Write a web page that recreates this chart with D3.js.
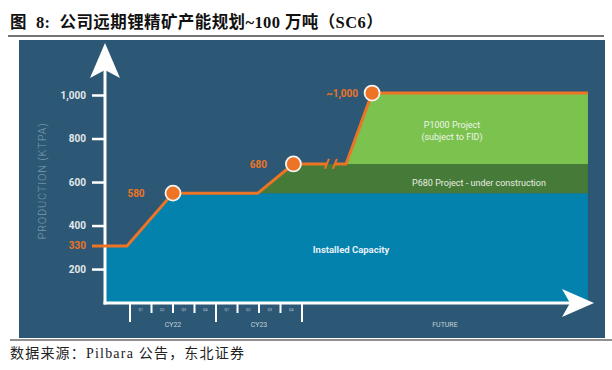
<!DOCTYPE html>
<html>
<head>
<meta charset="utf-8">
<script src="https://cdn.jsdelivr.net/npm/d3@7"></script>
<style>
  body { margin: 0; background: #fff; }
  svg { display: block; }
</style>
</head>
<body>
<svg id="chart" width="612" height="370"></svg>
<script>
// values (schematic chart, KTPA)
const yTicks = [200, 400, 600, 800, 1000];
const quarterTicks = [0, 1, 2, 3, 4, 5, 6, 7, 8];
const quarterLabels = ["Q1", "Q2", "Q3", "Q4", "Q1", "Q2", "Q3", "Q4"];
const yearLabels = ["CY22", "CY23"];
// x position in quarters from start of CY22, level in KTPA
const installedPts = [[-1.16, 306], [-0.14, 306], [2, 549], [21.3, 549]];
const p680Pts = [[5.95, 549], [7.6, 683], [21.3, 683]];
const p1000Pts = [[10.05, 683], [11.26, 1009], [21.3, 1009]];
const milestones = [
  { q: 2, v: 549, label: "580" },
  { q: 7.6, v: 683, label: "680" },
  { q: 11.26, v: 1009, label: "~1,000" }
];
const startLevel = { v: 306, label: "330" };
const breakQ = [9.16, 9.53];

const panelColor = "#2c5876";
const blueColor = "#0482ae";
const darkGreen = "#467a38";
const lightGreen = "#7bc24f";
const orange = "#ec7424";

const svg = d3.select("#chart");

// title + rules
svg.append("text")
  .attr("x", 10).attr("y", 28)
  .attr("font-family", "'Liberation Serif', 'Noto Sans CJK SC', serif")
  .attr("font-size", 16.5).attr("font-weight", "bold").attr("fill", "#111")
  .attr("letter-spacing", 0.4)
  .style("white-space", "pre")
  .text("图  8:  公司远期锂精矿产能规划~100 万吨（SC6）");

svg.append("line")
  .attr("x1", 8).attr("x2", 604).attr("y1", 36).attr("y2", 36)
  .attr("stroke", "#444").attr("stroke-width", 1.5);

svg.append("rect")
  .attr("x", 19).attr("y", 40).attr("width", 586).attr("height", 298)
  .attr("fill", panelColor);

svg.append("line")
  .attr("x1", 10).attr("x2", 612).attr("y1", 340).attr("y2", 340)
  .attr("stroke", "#222").attr("stroke-width", 1.2);

svg.append("text")
  .attr("x", 10).attr("y", 358)
  .attr("font-family", "'Liberation Serif', 'Noto Sans CJK SC', serif")
  .attr("font-size", 14).attr("letter-spacing", 1.2).attr("fill", "#222")
  .text("数据来源：Pilbara 公告，东北证券");

// scales
const xScale = d3.scaleLinear().domain([0, 8]).range([130, 302]);
const yScale = d3.scaleLinear().domain([44, 1000]).range([303, 95]);
const base = yScale.domain()[0];

const g = svg.append("g");

const area = d3.area()
  .x(d => xScale(d[0]))
  .y0(yScale(base))
  .y1(d => yScale(d[1]));

const areaBand = (lower) => d3.area()
  .x(d => xScale(d[0]))
  .y0(yScale(lower))
  .y1(d => yScale(d[1]));

// filled capacity bands
g.append("path")
  .datum([[installedPts[0][0], base], ...installedPts])
  .attr("d", area)
  .attr("fill", blueColor);

g.append("path")
  .datum(p680Pts)
  .attr("d", areaBand(installedPts[3][1]))
  .attr("fill", darkGreen);

g.append("path")
  .datum(p1000Pts)
  .attr("d", areaBand(p680Pts[2][1]))
  .attr("fill", lightGreen);

// band labels
const bandText = g.append("g")
  .attr("font-family", "Roboto, 'DejaVu Sans', sans-serif")
  .attr("text-anchor", "middle");

bandText.append("text")
  .attr("x", 452).attr("y", 128)
  .attr("font-size", 9).attr("fill", "#eef5e8")
  .text("P1000 Project");
bandText.append("text")
  .attr("x", 452).attr("y", 140)
  .attr("font-size", 9).attr("fill", "#eef5e8")
  .text("(subject to FID)");
bandText.append("text")
  .attr("x", 479).attr("y", 186)
  .attr("font-size", 9).attr("fill", "#e6eee2")
  .text("P680 Project - under construction");
bandText.append("text")
  .attr("x", 351).attr("y", 253)
  .attr("font-size", 9.5).attr("font-weight", "bold").attr("fill", "#e4f0f6")
  .text("Installed Capacity");

// y axis ticks and labels
const yAxis = d3.axisLeft(yScale)
  .tickValues(yTicks)
  .tickSize(13)
  .tickPadding(6)
  .tickFormat(d3.format(","));

const yAxisG = g.append("g")
  .attr("transform", "translate(105,0)")
  .call(yAxis);
yAxisG.select(".domain").remove();
yAxisG.selectAll(".tick line")
  .attr("stroke", "#fff").attr("stroke-width", 2.5);
yAxisG.selectAll(".tick text")
  .attr("fill", "#e3e8ec")
  .attr("font-family", "Roboto, sans-serif")
  .attr("font-size", 10).attr("font-weight", "bold");

g.append("text")
  .attr("x", 86).attr("y", yScale(startLevel.v)).attr("dy", "0.35em")
  .attr("text-anchor", "end")
  .attr("font-family", "Roboto, sans-serif")
  .attr("font-size", 10).attr("font-weight", "bold")
  .attr("fill", orange)
  .text(startLevel.label);

g.append("text")
  .attr("transform", "translate(46,181) rotate(-90)")
  .attr("text-anchor", "middle")
  .attr("font-family", "Roboto, sans-serif")
  .attr("font-size", 11).attr("font-weight", 300)
  .attr("letter-spacing", 0.8)
  .attr("fill", "#7f9bb1")
  .text("PRODUCTION (KTPA)");

// x axis ticks below the line
const xTickG = g.append("g");
xTickG.selectAll("line")
  .data(quarterTicks)
  .join("line")
    .attr("x1", d => xScale(d)).attr("x2", d => xScale(d))
    .attr("y1", 303)
    .attr("y2", d => d % 4 === 0 ? 322 : 313)
    .attr("stroke", "#fff").attr("stroke-width", 2);

xTickG.selectAll(".q")
  .data(quarterLabels)
  .join("text")
    .attr("class", "q")
    .attr("x", (d, i) => xScale(i + 0.5))
    .attr("y", 311)
    .attr("text-anchor", "middle")
    .attr("font-family", "Roboto, sans-serif")
    .attr("font-size", 3.5).attr("fill", "#c5d0d9")
    .text(d => d);

xTickG.selectAll(".yr")
  .data(yearLabels)
  .join("text")
    .attr("class", "yr")
    .attr("x", (d, i) => xScale(i * 4 + 2))
    .attr("y", 327)
    .attr("text-anchor", "middle")
    .attr("font-family", "Roboto, sans-serif")
    .attr("font-size", 7).attr("fill", "#c5d0d9")
    .text(d => d);

xTickG.append("text")
  .attr("x", xScale(14.65)).attr("y", 327)
  .attr("text-anchor", "middle")
  .attr("font-family", "Roboto, sans-serif")
  .attr("font-size", 7).attr("fill", "#c5d0d9")
  .text("FUTURE");

// axis lines with arrowheads
g.append("line")
  .attr("x1", 105).attr("x2", 105).attr("y1", 304.5).attr("y2", 60)
  .attr("stroke", "#fff").attr("stroke-width", 3);
g.append("line")
  .attr("x1", 103.5).attr("x2", 575).attr("y1", 303).attr("y2", 303)
  .attr("stroke", "#fff").attr("stroke-width", 3);

g.append("path")
  .attr("d", "M105,43 L120,78 L105,70 L90,78 Z")
  .attr("fill", "#fff");
g.append("path")
  .attr("d", "M594,303 L562,289 L570,303 L562,317 Z")
  .attr("fill", "#fff");

// orange capacity line, broken before the P1000 step
const line = d3.line()
  .x(d => xScale(d[0]))
  .y(d => yScale(d[1]));

const beforeBreak = [
  [xScale.invert(92), startLevel.v],
  ...installedPts.slice(1, 3),
  ...p680Pts.slice(0, 2),
  [breakQ[0], p680Pts[1][1]]
];
const afterBreak = [[breakQ[1], p680Pts[1][1]], ...p1000Pts];

g.selectAll(".cap-line")
  .data([beforeBreak, afterBreak])
  .join("path")
    .attr("class", "cap-line")
    .attr("d", line)
    .attr("fill", "none")
    .attr("stroke", orange)
    .attr("stroke-width", 3)
    .attr("stroke-linejoin", "round");

g.selectAll(".brk")
  .data(breakQ)
  .join("line")
    .attr("class", "brk")
    .attr("x1", d => xScale(d) - 2).attr("x2", d => xScale(d) + 2)
    .attr("y1", yScale(p680Pts[1][1]) + 5)
    .attr("y2", yScale(p680Pts[1][1]) - 5)
    .attr("stroke", orange).attr("stroke-width", 2);

// milestone dots and labels
g.selectAll(".dot")
  .data(milestones)
  .join("circle")
    .attr("class", "dot")
    .attr("cx", d => xScale(d.q))
    .attr("cy", d => yScale(d.v))
    .attr("r", 7.5)
    .attr("fill", orange)
    .attr("stroke", "#f4f4f4")
    .attr("stroke-width", 1.8);

const labelPos = [
  { dx: -37, anchor: "middle" },
  { dx: -35, anchor: "middle" },
  { dx: -14, anchor: "end" }
];

g.selectAll(".ms-label")
  .data(milestones)
  .join("text")
    .attr("class", "ms-label")
    .attr("x", (d, i) => xScale(d.q) + labelPos[i].dx)
    .attr("y", d => yScale(d.v))
    .attr("dy", "0.38em")
    .attr("text-anchor", (d, i) => labelPos[i].anchor)
    .attr("font-family", "Roboto, sans-serif")
    .attr("font-size", 10).attr("font-weight", "bold")
    .attr("fill", orange)
    .text(d => d.label);
</script>
</body>
</html>
